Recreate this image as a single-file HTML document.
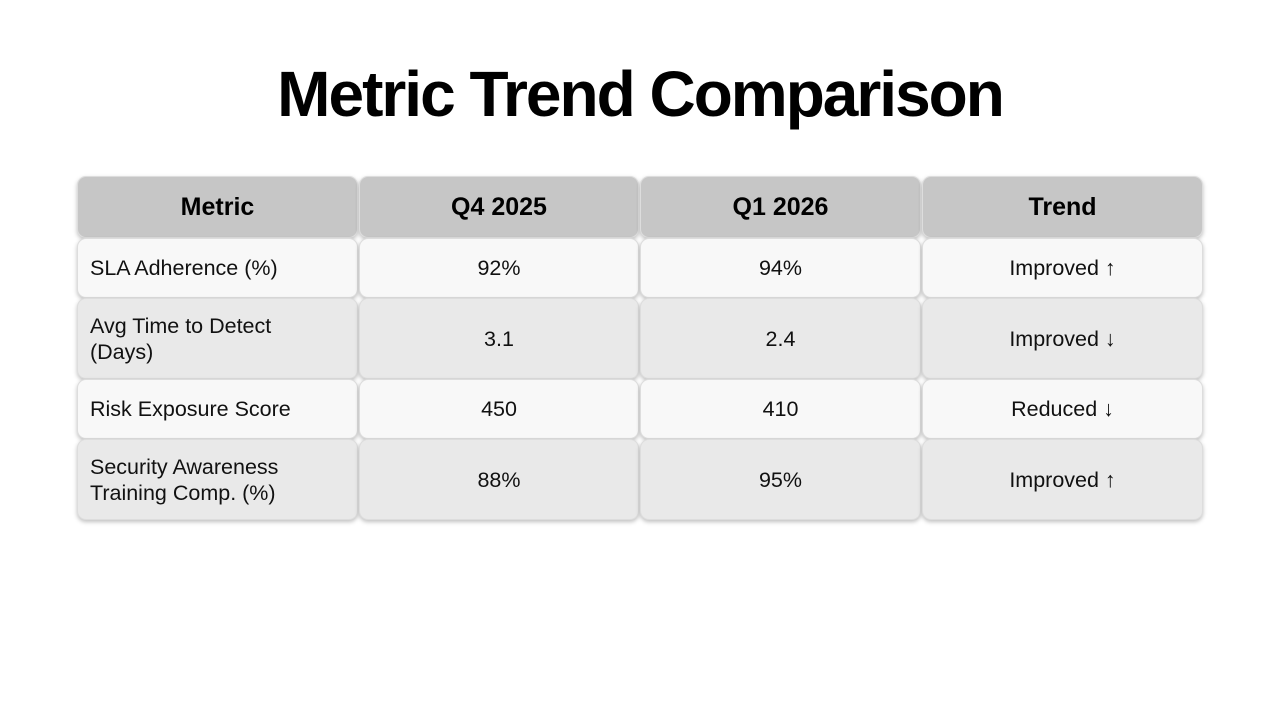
<!DOCTYPE html>
<html><head><style>
body{margin:0;width:1280px;height:720px;background:#fff;font-family:"Liberation Sans",sans-serif;position:relative;overflow:hidden}
h1{position:absolute;top:56px;left:0;width:1280px;margin:0;text-align:center;font-size:64px;font-weight:bold;letter-spacing:-2px;color:#000;line-height:76px}
.c{position:absolute;box-sizing:border-box;border-radius:9px;box-shadow:0 2px 4px rgba(0,0,0,.25);display:flex;align-items:center;justify-content:center;font-size:21.5px;color:#111;text-align:center;line-height:26px;border:1px solid #ddd}
.h{background:#c6c6c6;font-weight:bold;font-size:25px;color:#000}
.l{background:#f8f8f8}.d{background:#e9e9e9}
.m{justify-content:flex-start;text-align:left;padding-left:12px}
</style></head><body>
<h1>Metric Trend Comparison</h1>
<div class="c h" style="left:77px;top:176px;width:281px;height:62px">Metric</div>
<div class="c h" style="left:359px;top:176px;width:280px;height:62px">Q4 2025</div>
<div class="c h" style="left:640px;top:176px;width:281px;height:62px">Q1 2026</div>
<div class="c h" style="left:922px;top:176px;width:281px;height:62px">Trend</div>

<div class="c l m" style="left:77px;top:238px;width:281px;height:60px">SLA Adherence (%)</div>
<div class="c l" style="left:359px;top:238px;width:280px;height:60px">92%</div>
<div class="c l" style="left:640px;top:238px;width:281px;height:60px">94%</div>
<div class="c l" style="left:922px;top:238px;width:281px;height:60px">Improved ↑</div>

<div class="c d m" style="left:77px;top:298px;width:281px;height:81px">Avg Time to Detect<br>(Days)</div>
<div class="c d" style="left:359px;top:298px;width:280px;height:81px">3.1</div>
<div class="c d" style="left:640px;top:298px;width:281px;height:81px">2.4</div>
<div class="c d" style="left:922px;top:298px;width:281px;height:81px">Improved ↓</div>

<div class="c l m" style="left:77px;top:379px;width:281px;height:60px">Risk Exposure Score</div>
<div class="c l" style="left:359px;top:379px;width:280px;height:60px">450</div>
<div class="c l" style="left:640px;top:379px;width:281px;height:60px">410</div>
<div class="c l" style="left:922px;top:379px;width:281px;height:60px">Reduced ↓</div>

<div class="c d m" style="left:77px;top:439px;width:281px;height:81px">Security Awareness<br>Training Comp. (%)</div>
<div class="c d" style="left:359px;top:439px;width:280px;height:81px">88%</div>
<div class="c d" style="left:640px;top:439px;width:281px;height:81px">95%</div>
<div class="c d" style="left:922px;top:439px;width:281px;height:81px">Improved ↑</div>
</body></html>
